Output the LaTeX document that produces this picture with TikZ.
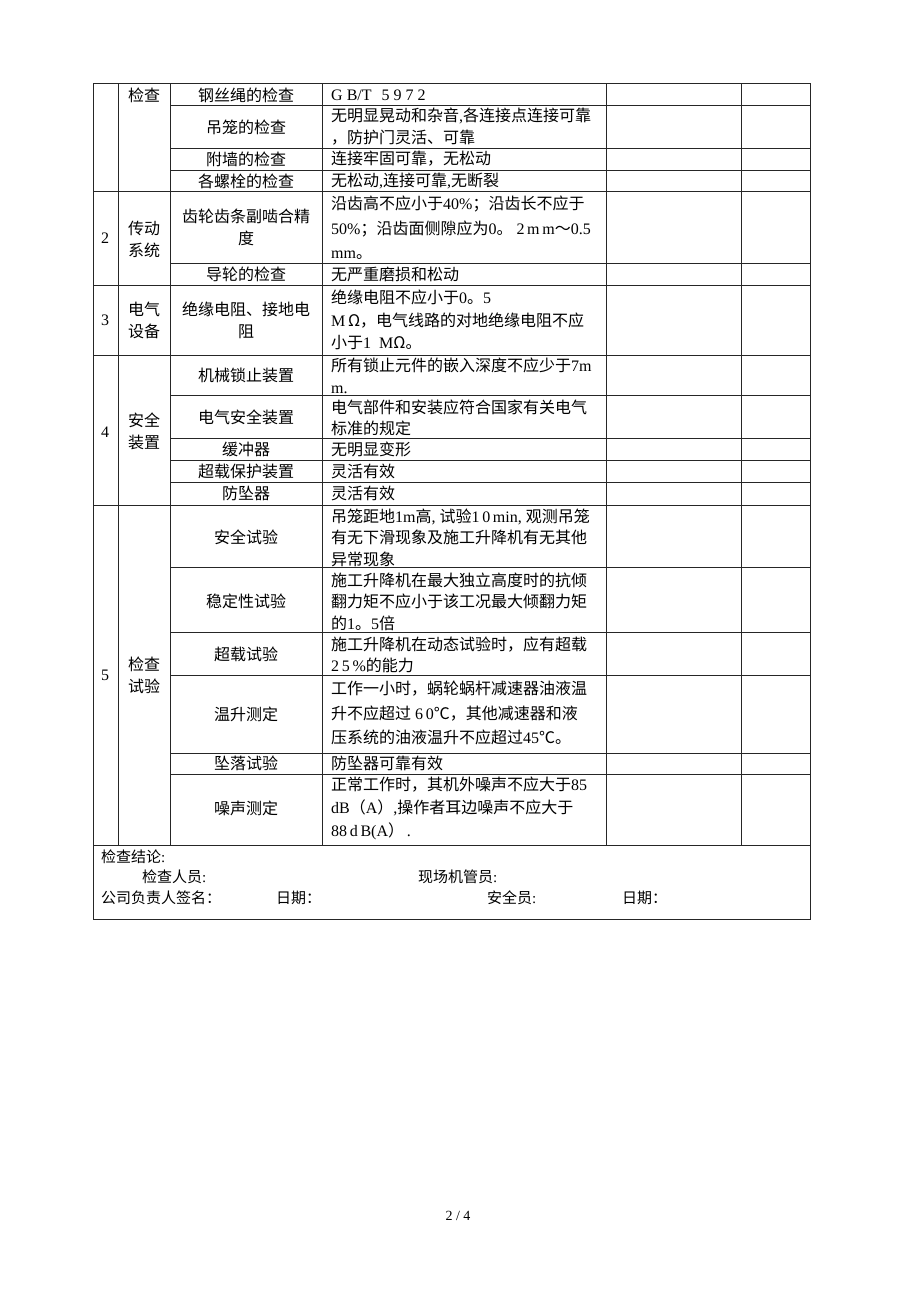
\documentclass[tikz,border=0pt]{standalone}
\usepackage{fontspec}
\setmainfont{Noto Sans CJK SC}
\newfontfamily\lat{Liberation Serif}
\begin{document}
\begin{tikzpicture}[x=1pt,y=-1pt,
  grid/.style={line width=0.9pt, draw=black!85},
  ct/.style={inner sep=0pt, align=center, font=\fontsize{16}{#1}\selectfont},
  ct/.default=22,
  cl/.style={inner sep=0pt, anchor=west, align=left, font=\fontsize{16}{#1}\selectfont},
  cl/.default=22,
  ft/.style={inner sep=0pt, anchor=west, font=\fontsize{15}{18}\selectfont},
]
\useasboundingbox (0,0) rectangle (920,1302);
\fill[white] (0,0) rectangle (920,1302);

% ---- grid ----
\draw[grid] (93,83) rectangle (810,919);
\foreach \y in {83,191,285,355,505,845} \draw[grid] (93,\y) -- (810,\y);
\foreach \y in {105,148,170,263,395,438,460,482,567,632,675,753,774} \draw[grid] (170,\y) -- (810,\y);
\foreach \x in {118,170,322,606,741} \draw[grid] (\x,83) -- (\x,845);

% ---- group 1 ----
\node[ct] (g1) at (144,95) {检查};
\node[ct] (a1) at (246,95) {钢丝绳的检查};
\node[cl] (b1) at (331,95) {{\lat G B/T\hspace{10pt}5 9 7 2}};
\node[ct] (a2) at (246,127) {吊笼的检查};
\node[cl] (b2) at (331,127) {无明显晃动和杂音{\lat ,}各连接点连接可靠\\，防护门灵活、可靠};
\node[ct] (a3) at (246,159) {附墙的检查};
\node[cl] (b3) at (331,159) {连接牢固可靠，无松动};
\node[ct] (a4) at (246,181) {各螺栓的检查};
\node[cl] (b4) at (331,181) {无松动{\lat ,}连接可靠{\lat ,}无断裂};

% ---- group 2 ----
\node[ct] (n2) at (105,238) {{\lat 2}};
\node[ct] (g2) at (144,239) {传动\\系统};
\node[ct] (a5) at (246,227) {齿轮齿条副啮合精\\度};
\node[cl=24.5] (b5) at (331,228) {沿齿高不应小于{\lat 40\%}；沿齿长不应于\\{\lat 50\%}；沿齿面侧隙应为{\lat 0}。{\lat\ 2\,m\,m}～{\lat 0.5}\\{\lat mm}。};
\node[ct] (a6) at (246,274) {导轮的检查};
\node[cl] (b6) at (331,274) {无严重磨损和松动};

% ---- group 3 ----
\node[ct] (n3) at (105,320) {{\lat 3}};
\node[ct] (g3) at (144,320) {电气\\设备};
\node[ct] (a7) at (246,320) {绝缘电阻、接地电\\阻};
\node[cl=22.5] (b7) at (331,320) {绝缘电阻不应小于{\lat 0}。{\lat 5}\\{\lat M\,}Ω，电气线路的对地绝缘电阻不应\\小于{\lat 1\ \ M}Ω。};

% ---- group 4 ----
\node[ct] (n4) at (105,432) {{\lat 4}};
\node[ct] (g4) at (144,431) {安全\\装置};
\node[ct] (a8) at (246,375) {机械锁止装置};
\node[cl] (b8) at (331,376) {所有锁止元件的嵌入深度不应少于{\lat 7m}\\{\lat m.}};
\node[ct] (a9) at (246,417) {电气安全装置};
\node[cl=21] (b9) at (331,418) {电气部件和安装应符合国家有关电气\\标准的规定};
\node[ct] (a10) at (246,449) {缓冲器};
\node[cl] (b10) at (331,449) {无明显变形};
\node[ct] (a11) at (246,471) {超载保护装置};
\node[cl] (b11) at (331,471) {灵活有效};
\node[ct] (a12) at (246,493) {防坠器};
\node[cl] (b12) at (331,493) {灵活有效};

% ---- group 5 ----
\node[ct] (n5) at (105,675) {{\lat 5}};
\node[ct] (g5) at (144,675) {检查\\试验};
\node[ct] (a13) at (246,537) {安全试验};
\node[cl=21.5] (b13) at (331,537.5) {吊笼距地{\lat 1m}高{\lat , }试验{\lat 1\,0\,min, }观测吊笼\\有无下滑现象及施工升降机有无其他\\异常现象};
\node[ct] (a14) at (246,601) {稳定性试验};
\node[cl=21.5] (b14) at (331,601.5) {施工升降机在最大独立高度时的抗倾\\翻力矩不应小于该工况最大倾翻力矩\\的{\lat 1}。{\lat 5}倍};
\node[ct] (a15) at (246,654) {超载试验};
\node[cl=20.5] (b15) at (331,655) {施工升降机在动态试验时，应有超载\\{\lat 2\,5\,\%}的能力};
\node[ct] (a16) at (246,714) {温升测定};
\node[cl=24.5] (b16) at (331,713) {工作一小时，蜗轮蜗杆减速器油液温\\升不应超过{\lat\ 6\,0}℃，其他减速器和液\\压系统的油液温升不应超过{\lat 45}℃。};
\node[ct] (a17) at (246,763) {坠落试验};
\node[cl] (b17) at (331,763) {防坠器可靠有效};
\node[ct] (a18) at (246,808) {噪声测定};
\node[cl=23] (b18) at (331,808) {正常工作时，其机外噪声不应大于{\lat 85}\\{\lat dB}（{\lat A}）{\lat ,}操作者耳边噪声不应大于\\{\lat 88\,d\,B(A}）{\lat\,.}};

% ---- footer ----
\node[ft] (f1) at (101,857) {检查结论{\lat :}};
\node[ft] (f2) at (142,877) {检查人员{\lat :}};
\node[ft] (f3) at (418,877) {现场机管员{\lat :}};
\node[ft] (f4) at (101,898) {公司负责人签名：};
\node[ft] (f5) at (276,898) {日期：};
\node[ft] (f6) at (487,898) {安全员{\lat :}};
\node[ft] (f7) at (622,898) {日期：};

\node[inner sep=0pt, font=\lat\fontsize{14}{16}\selectfont] (pg) at (458,1216) {2 / 4};
\end{tikzpicture}
\end{document}
